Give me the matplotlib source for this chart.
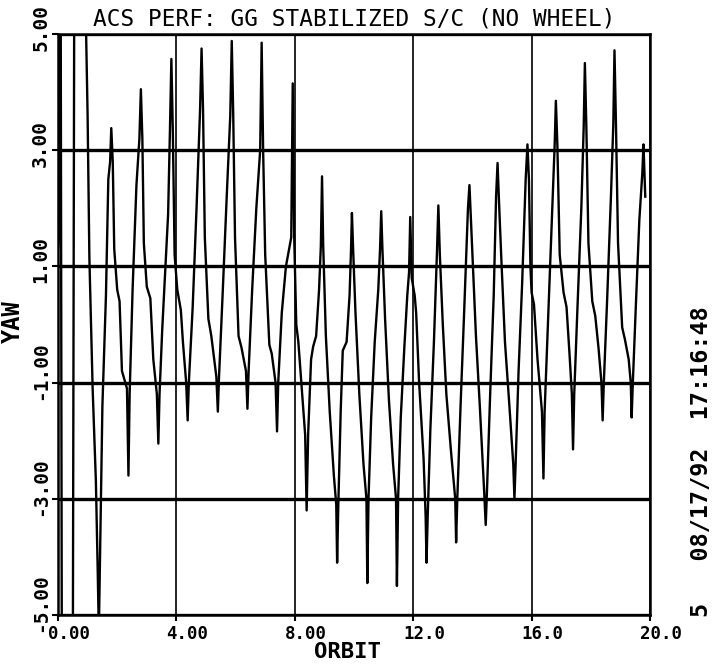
import matplotlib
matplotlib.use('Agg')
import matplotlib.pyplot as plt
from matplotlib.transforms import ScaledTranslation

# yaw trace, vertices (peaks, shoulders, bumps, troughs)
orbit = [0.00, 0.03, 0.07, 0.09, 0.13, 0.50, 0.55, 0.93,
         0.95, 1.00, 1.06, 1.17, 1.28, 1.34, 1.38,
         1.42, 1.50, 1.62, 1.70, 1.76, 1.80,
         1.85, 1.90, 2.00, 2.08, 2.16, 2.33, 2.38,
         2.42, 2.52, 2.65, 2.75, 2.80,
         2.85, 2.90, 3.00, 3.12, 3.22, 3.34, 3.39,
         3.43, 3.52, 3.62, 3.72, 3.78, 3.83,
         3.88, 3.94, 4.03, 4.15, 4.22, 4.33, 4.38,
         4.42, 4.55, 4.68, 4.80, 4.85,
         4.90, 4.96, 5.08, 5.18, 5.35, 5.40,
         5.44, 5.56, 5.70, 5.82, 5.87,
         5.92, 5.98, 6.10, 6.20, 6.35, 6.40,
         6.44, 6.56, 6.70, 6.83, 6.88,
         6.93, 7.00, 7.14, 7.22, 7.35, 7.40,
         7.44, 7.56, 7.70, 7.88, 7.93,
         7.98, 8.05, 8.12, 8.22, 8.35, 8.40,
         8.45, 8.55, 8.62, 8.72, 8.82, 8.88, 8.92,
         8.96, 9.05, 9.18, 9.32, 9.40, 9.43,
         9.47, 9.55, 9.62, 9.75, 9.85, 9.90, 9.93,
         9.97, 10.05, 10.18, 10.32, 10.42, 10.45,
         10.49, 10.58, 10.70, 10.82, 10.88, 10.92,
         10.96, 11.05, 11.18, 11.32, 11.42, 11.45,
         11.49, 11.58, 11.70, 11.80, 11.86, 11.90,
         11.95, 12.05, 12.10, 12.20, 12.35, 12.42, 12.45,
         12.49, 12.58, 12.70, 12.80, 12.85,
         12.90, 13.00, 13.12, 13.28, 13.42, 13.45,
         13.49, 13.60, 13.72, 13.85, 13.90,
         13.95, 14.02, 14.12, 14.25, 14.40, 14.45,
         14.49, 14.60, 14.72, 14.80, 14.85,
         14.90, 14.98, 15.10, 15.25, 15.38, 15.42,
         15.46, 15.56, 15.68, 15.80, 15.86,
         15.91, 15.96, 16.00, 16.08, 16.20, 16.35, 16.40,
         16.44, 16.55, 16.68, 16.78, 16.82,
         16.87, 16.95, 17.08, 17.18, 17.28, 17.36, 17.40,
         17.44, 17.55, 17.68, 17.76, 17.80,
         17.85, 17.92, 18.05, 18.15, 18.26, 18.36, 18.40,
         18.44, 18.55, 18.68, 18.76, 18.80,
         18.85, 18.92, 19.06, 19.15, 19.28, 19.35, 19.38,
         19.42, 19.52, 19.64, 19.74, 19.78, 19.84]
yaw = [1.30, 1.50, 6.0, 6.0, -6.0, -6.0, 6.0, 6.0,
       5.0, 3.6, 1.15, -1.1, -2.7, -4.2, -5.3,
       -4.0, -1.4, 0.5, 2.5, 2.8, 3.38,
       2.8, 1.3, 0.6, 0.4, -0.8, -1.1, -2.6,
       -1.2, 0.6, 2.4, 3.2, 4.05,
       3.2, 1.4, 0.65, 0.45, -0.6, -1.2, -2.05,
       -1.2, -0.1, 0.9, 1.9, 3.3, 4.57,
       3.3, 1.2, 0.6, 0.25, -0.3, -1.0, -1.65,
       -1.0, 0.3, 2.0, 3.7, 4.75,
       3.7, 1.5, 0.1, -0.2, -0.9, -1.5,
       -0.9, 0.5, 2.2, 3.6, 4.88,
       3.6, 1.5, -0.2, -0.4, -0.8, -1.45,
       -0.8, 0.6, 2.0, 3.0, 4.85,
       3.0, 1.2, -0.35, -0.5, -1.0, -1.84,
       -1.0, 0.2, 1.0, 1.5, 4.15,
       1.5, 0.0, -0.3, -1.0, -1.9, -3.2,
       -1.9, -0.6, -0.38, -0.2, 0.6, 1.35, 2.55,
       1.35, -0.2, -1.5, -2.6, -3.1, -4.1,
       -3.1, -1.5, -0.45, -0.3, 0.5, 1.3, 1.92,
       1.3, 0.2, -1.2, -2.4, -3.0, -4.45,
       -3.0, -1.6, -0.3, 0.6, 1.3, 1.95,
       1.3, 0.1, -1.3, -2.4, -3.0, -4.5,
       -3.0, -1.6, -0.4, 0.5, 0.9, 1.85,
       0.8, 0.5, 0.2, -1.0, -2.3, -3.3, -4.1,
       -3.3, -1.8, -0.3, 1.2, 2.05,
       1.2, 0.0, -1.2, -2.2, -3.0, -3.75,
       -3.0, -1.4, 0.2, 2.0, 2.4,
       1.8, 1.0, -0.2, -1.4, -2.9, -3.45,
       -2.9, -1.2, 0.5, 2.2, 2.78,
       2.1, 1.1, -0.3, -1.4, -2.4, -3.0,
       -2.4, -0.8, 0.7, 2.5, 3.1,
       2.5, 1.0, 0.55, 0.35, -0.6, -1.5, -2.65,
       -1.5, 0.0, 1.8, 3.1, 3.85,
       3.1, 1.2, 0.55, 0.3, -0.5, -1.2, -2.15,
       -1.2, 0.3, 2.0, 3.4, 4.5,
       3.4, 1.4, 0.4, 0.15, -0.4, -1.0, -1.65,
       -1.0, 0.4, 2.2, 3.45, 4.72,
       3.45, 1.4, -0.05, -0.25, -0.6, -1.0, -1.6,
       -1.0, 0.3, 1.8, 2.6, 3.1, 2.2]

x_ticks = [0, 4, 8, 12, 16, 20]
x_tick_labels = ['0.00', '4.00', '8.00', '12.0', '16.0', '20.0']
y_ticks = [5, 3, 1, -1, -3, -5]
y_tick_labels = ['5.00', '3.00', '1.00', '-1.00', '-3.00', '-5.00']

plt.rcParams['font.family'] = ['DejaVu Sans Mono']
plt.rcParams['font.weight'] = 'bold'

fig = plt.figure(figsize=(7.13, 6.68), dpi=100)
ax = fig.add_axes([58 / 713, 53 / 668, 592 / 713, 581 / 668])

ax.plot(orbit, yaw, color='black', lw=1.7)

ax.set_xlim(0, 20)
ax.set_ylim(-5, 5)

# thick horizontal grid, thin vertical grid
ax.grid(axis='y', color='black', lw=2.4)
ax.grid(axis='x', color='black', lw=1.2)

ax.set_xticks(x_ticks)
ax.set_xticklabels(x_tick_labels, fontsize=12.5)
ax.set_yticks(y_ticks)
ax.set_yticklabels(y_tick_labels, fontsize=14, rotation=90,
                   rotation_mode='anchor', ha='left', va='center')
ax.tick_params(direction='out', length=4.5, width=1.5, color='black')
ax.tick_params(axis='x', pad=3)
ax.tick_params(axis='y', pad=8)
for sp in ax.spines.values():
    sp.set_linewidth(1.8)

# plotter labels sit a little off their ticks
for lab in ax.get_xticklabels():
    lab.set_transform(lab.get_transform() + ScaledTranslation(0.11, 0, fig.dpi_scale_trans))
for lab in ax.get_yticklabels():
    lab.set_transform(lab.get_transform() + ScaledTranslation(0, -0.17, fig.dpi_scale_trans))

ax.set_title('ACS PERF: GG STABILIZED S/C (NO WHEEL)', fontsize=16.4, pad=6)
fig.text(347 / 713, 1 - 652 / 668, 'ORBIT', fontsize=16, ha='center', va='center')
fig.text(13 / 713, 1 - 322 / 668, 'YAW', fontsize=17, rotation=90, ha='center', va='center')
fig.text(701 / 713, 1 - 617 / 668, '5   08/17/92  17:16:48', fontsize=16.8,
         rotation=90, rotation_mode='anchor', ha='left', va='center')

fig.savefig('out.png', dpi=100)
